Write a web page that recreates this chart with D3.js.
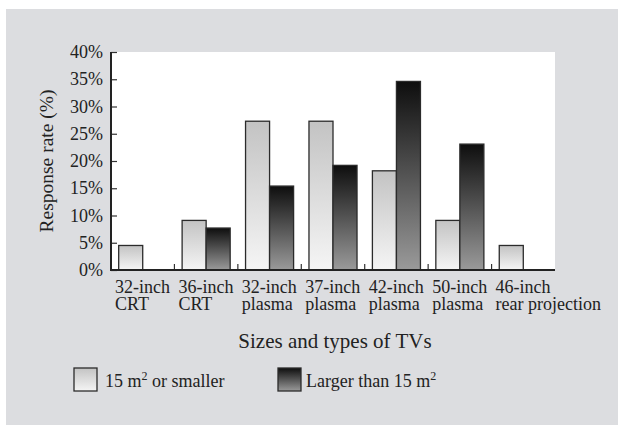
<!DOCTYPE html>
<html>
<head>
<meta charset="utf-8">
<script src="https://cdn.jsdelivr.net/npm/d3@7"></script>
<style>
  body { margin: 0; background: #fff; }
  svg { display: block; font-family: "Liberation Serif", "DejaVu Serif", serif; }
</style>
</head>
<body>
<div id="chart"></div>
<script>
// Response rate by TV size/type, split by room size

const categories = [
  ["32-inch", "CRT"],
  ["36-inch", "CRT"],
  ["32-inch", "plasma"],
  ["37-inch", "plasma"],
  ["42-inch", "plasma"],
  ["50-inch", "plasma"],
  ["46-inch", "rear projection"]
];
const smallRoom = [4.5, 9.1, 27.3, 27.3, 18.2, 9.1, 4.5];
const largeRoom = [0, 7.7, 15.4, 19.2, 34.6, 23.1, 0];
const yTicks = [0, 5, 10, 15, 20, 25, 30, 35, 40];
const seriesNames = ["small", "large"];

const width = 618;
const height = 425;
const margin = {top: 52, right: 63, bottom: 155, left: 111};

const svg = d3.select("#chart")
  .append("svg")
  .attr("width", width)
  .attr("height", height);

// gradients for the two series
const defs = svg.append("defs");
const gLight = defs.append("linearGradient")
  .attr("id", "light").attr("x1", 0).attr("y1", 0).attr("x2", 0).attr("y2", 1);
gLight.append("stop").attr("offset", "0%").attr("stop-color", "#c3c3c3");
gLight.append("stop").attr("offset", "100%").attr("stop-color", "#f5f5f5");
const gDark = defs.append("linearGradient")
  .attr("id", "dark").attr("x1", 0).attr("y1", 0).attr("x2", 0).attr("y2", 1);
gDark.append("stop").attr("offset", "0%").attr("stop-color", "#0e0e0e");
gDark.append("stop").attr("offset", "100%").attr("stop-color", "#9a9a9a");

// grey panel
svg.append("rect")
  .attr("x", 6).attr("y", 9)
  .attr("width", width - 6).attr("height", height - 9)
  .attr("fill", "#dcdde0");

const x = d3.scaleBand()
  .domain(d3.range(categories.length))
  .range([margin.left, width - margin.right]);

const xSub = d3.scaleBand()
  .domain(seriesNames)
  .range([0, x.bandwidth()])
  .paddingOuter(0.32)
  .paddingInner(0);

const y = d3.scaleLinear()
  .domain([0, 40])
  .range([height - margin.bottom, margin.top]);

// white plot area
svg.append("rect")
  .attr("x", margin.left)
  .attr("y", margin.top)
  .attr("width", width - margin.left - margin.right)
  .attr("height", height - margin.top - margin.bottom)
  .attr("fill", "#fff");

// bars
const rows = categories.map((c, i) => ({i, small: smallRoom[i], large: largeRoom[i]}));
const groups = svg.append("g").selectAll("g")
  .data(rows)
  .join("g")
    .attr("transform", d => `translate(${x(d.i)},0)`);

groups.selectAll("rect")
  .data(d => seriesNames.map(k => ({k, v: d[k]})).filter(e => e.v > 0))
  .join("rect")
    .attr("x", d => xSub(d.k))
    .attr("width", xSub.bandwidth())
    .attr("y", d => y(d.v))
    .attr("height", d => y(0) - y(d.v))
    .attr("fill", d => d.k === "small" ? "url(#light)" : "url(#dark)")
    .attr("stroke", "#2b2b2b")
    .attr("stroke-width", 1.3);

// y axis
const yAxis = svg.append("g")
  .attr("transform", `translate(${margin.left},0)`)
  .call(d3.axisRight(y).tickValues(yTicks).tickSize(6).tickFormat(d => ""));
yAxis.select(".domain").remove();
yAxis.selectAll(".tick line").attr("stroke", "#333").attr("stroke-width", 1.2);

svg.append("g").selectAll("text")
  .data(yTicks)
  .join("text")
    .attr("x", margin.left - 8)
    .attr("y", d => y(d) + 6)
    .attr("text-anchor", "end")
    .attr("font-size", 18)
    .attr("fill", "#222")
    .text(d => d + "%");

svg.append("line")
  .attr("x1", margin.left).attr("x2", margin.left)
  .attr("y1", y(40)).attr("y2", y(0) + 1)
  .attr("stroke", "#222").attr("stroke-width", 2);

// x axis: ticks at category boundaries, pointing up
const bounds = d3.range(1, categories.length).map(i => x(i));
svg.append("g").selectAll("line")
  .data(bounds)
  .join("line")
    .attr("x1", d => d).attr("x2", d => d)
    .attr("y1", y(0)).attr("y2", y(0) - 6)
    .attr("stroke", "#333").attr("stroke-width", 1.2);

svg.append("line")
  .attr("x1", margin.left).attr("x2", width - margin.right)
  .attr("y1", y(0)).attr("y2", y(0))
  .attr("stroke", "#222").attr("stroke-width", 2);

const labels = svg.append("g").selectAll("text")
  .data(categories)
  .join("text")
    .attr("x", (d, i) => x(i) + 4)
    .attr("y", y(0) + 23)
    .attr("font-size", 18)
    .attr("fill", "#222");
labels.selectAll("tspan")
  .data(d => d)
  .join("tspan")
    .attr("x", function() { return this.parentNode.getAttribute("x"); })
    .attr("dy", (d, j) => j === 0 ? 0 : 17)
    .text(d => d);

// axis titles
svg.append("text")
  .attr("x", (margin.left + width - margin.right) / 2 + 2)
  .attr("y", 348)
  .attr("text-anchor", "middle")
  .attr("font-size", 21)
  .attr("fill", "#222")
  .text("Sizes and types of TVs");

svg.append("text")
  .attr("transform", `translate(53,${(y(0) + y(40)) / 2}) rotate(-90)`)
  .attr("text-anchor", "middle")
  .attr("font-size", 19.5)
  .attr("fill", "#222")
  .text("Response rate (%)");

// legend
const legendItems = [
  {fill: "url(#light)", x: 74, tx: 31, label: "15 m", tail: " or smaller"},
  {fill: "url(#dark)", x: 278, tx: 28, label: "Larger than 15 m", tail: ""}
];
const leg = svg.append("g").selectAll("g")
  .data(legendItems)
  .join("g")
    .attr("transform", d => `translate(${d.x},368)`);
leg.append("rect")
  .attr("width", 23).attr("height", 23)
  .attr("fill", d => d.fill)
  .attr("stroke", "#2b2b2b").attr("stroke-width", 1.3);
const legText = leg.append("text")
  .attr("x", d => d.tx).attr("y", 19)
  .attr("font-size", 18)
  .attr("fill", "#222");
legText.append("tspan").text(d => d.label);
legText.append("tspan").attr("dy", -7).attr("font-size", 12).text("2");
legText.append("tspan").attr("dy", 7).text(d => d.tail);
</script>
</body>
</html>
